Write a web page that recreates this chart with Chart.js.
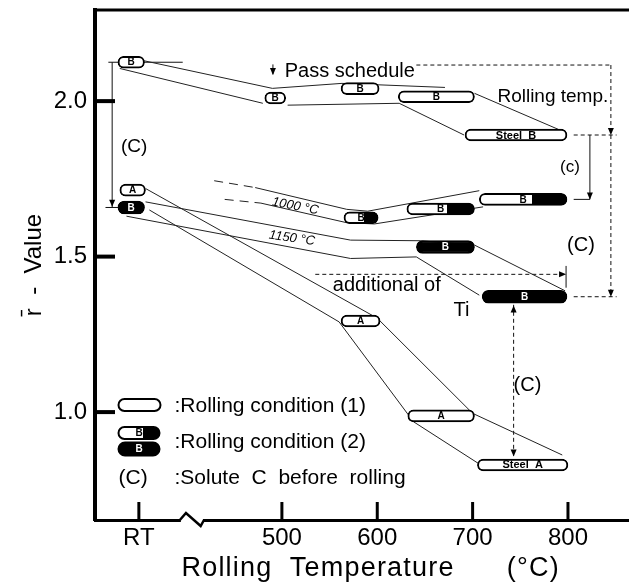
<!DOCTYPE html>
<html>
<head>
<meta charset="utf-8">
<script src="https://cdn.jsdelivr.net/npm/chart.js@4/dist/chart.umd.min.js"></script>
<style>
  html, body { margin: 0; padding: 0; background: #fff; }
  canvas { display: block; }
</style>
</head>
<body>
<canvas id="chart" width="629" height="582"></canvas>
<script>
// ---------------- data ----------------
const xTickValues = [350, 500, 600, 700, 800];          // 350 stands for RT (axis is broken)
const xTickLabels = ['RT', '500', '600', '700', '800'];
const yTickValues = [1.0, 1.5, 2.0];

// Steel B, rolling condition (1): temperature span [from, to] and r-value
const steelB1Temps  = [[328, 356], [482, 504], [562, 602], [622, 702], [692, 799]];
const steelB1Values = [2.125, 2.010, 2.040, 2.014, 1.891];
const steelB1Tags   = ['B', 'B', 'B', 'B', 'Steel  B'];

// Steel A, rolling condition (1)
const steelA1Temps  = [[330, 357], [562, 603], [632, 702], [705, 800]];
const steelA1Values = [1.714, 1.293, 0.988, 0.830];
const steelA1Tags   = ['A', 'A', 'A', 'Steel  A'];

// Steel B, rolling condition (2), reheated at 1000 °C (half filled)
const steelB2HalfTemps  = [[565, 601], [631, 702], [707, 799]];
const steelB2HalfValues = [1.625, 1.653, 1.684];
const steelB2HalfTags   = ['B', 'B', 'B'];

// Steel B, rolling condition (2), reheated at 1150 °C (filled); last one with Ti added
const steelB2FullTemps  = [[328, 356], [641, 702], [710, 799]];
const steelB2FullValues = [1.658, 1.531, 1.371];
const steelB2FullTags   = ['B', 'B', 'B'];

// connecting lines: [temperature, r-value]
const linkB1Upper   = [[352, 2.132], [490, 2.041], [563, 2.057], [671, 2.044]];
const linkB1Rolling = [[702, 2.025], [790, 1.909]];
const linkB1Lower   = [[330, 2.105], [480, 1.993]];
const linkB1Lower2  = [[506, 1.987], [623, 1.993], [691, 1.891]];
const linkA1Upper   = [[357, 1.719], [600, 1.302], [700, 0.996], [794, 0.862]];
const linkA1Lower   = [[361, 1.650], [560, 1.290], [638, 0.969], [706, 0.835]];
const link1150Upper = [[357, 1.676], [572, 1.553], [645, 1.551], [702, 1.537], [797, 1.390]];
const link1150Lower = [[337, 1.630], [572, 1.494], [641, 1.499], [707, 1.376]];
const link1000Upper = [[429, 1.744], [472, 1.722], [568, 1.652], [590, 1.646], [707, 1.712]];
const link1000Lower = [[440, 1.684], [478, 1.672], [568, 1.609], [597, 1.605], [711, 1.660]];

// ---------------- annotation layout (data units) ----------------
const dashedGuides = [
  [641, 2.116, 845, 2.116],
  [845, 2.116, 845, 1.371],
  [806, 1.891, 851, 1.891],
  [806, 1.371, 851, 1.371],
  [743, 1.345, 743, 0.855],
  [535, 1.443, 798, 1.443]
];
const solidGuides = [
  [318, 2.125, 396, 2.125],
  [322, 2.125, 322, 1.658],
  [315, 1.658, 330, 1.658],
  [806, 1.684, 823, 1.684],
  [823, 1.891, 823, 1.684],
  [798, 1.470, 798, 1.400],
  [490.6, 2.118, 490.6, 2.086]
];
const arrowHeads = [
  [322, 1.660, 'down'], [845, 1.891, 'down'], [845, 1.371, 'down'], [823, 1.684, 'down'],
  [798, 1.443, 'right'], [743, 1.343, 'up'], [743, 0.857, 'down'], [490.6, 2.084, 'down']
];
const annotationTexts = [
  { text: 'Pass schedule', t: 503, v: 2.096, align: 'left', size: 20 },
  { text: 'Rolling temp.', t: 726, v: 2.013, align: 'left', size: 19 },
  { text: '(C)', t: 345, v: 1.852, align: 'center', size: 19 },
  { text: '(c)', t: 802, v: 1.788, align: 'center', size: 17 },
  { text: '(C)', t: 813.6, v: 1.537, align: 'center', size: 20 },
  { text: '(C)', t: 757.5, v: 1.087, align: 'center', size: 20 },
  { text: 'additional of', t: 553.4, v: 1.408, align: 'left', size: 20 },
  { text: 'Ti', t: 680, v: 1.328, align: 'left', size: 20 },
  { text: '1000 °C', t: 514, v: 1.662, align: 'center', size: 13, italic: true, rot: 11 },
  { text: '1150 °C', t: 510.5, v: 1.559, align: 'center', size: 13, italic: true, rot: 8 }
];

const FONT = "'Liberation Sans', Arial, Helvetica, sans-serif";
Chart.defaults.font.family = FONT;
Chart.defaults.color = '#000';

function toPoints(arr) { return arr.map(([t, r]) => ({ x: t, y: r })); }
function toCaps(temps, vals) { return temps.map((tr, i) => ({ x: tr, y: vals[i] })); }

function lineDs(arr, dashFirst) {
  return {
    type: 'line', data: toPoints(arr), borderColor: '#222', borderWidth: 1,
    pointRadius: 0, fill: false, tension: 0, order: 5,
    segment: dashFirst ? { borderDash: c => c.p0DataIndex === 0 ? [9, 6] : undefined } : undefined
  };
}

function capsuleDs(temps, vals, tags, kind) {
  const base = {
    type: 'bar', indexAxis: 'y', data: toCaps(temps, vals), tags: tags,
    borderColor: '#000', borderWidth: 2, borderRadius: 30, borderSkipped: false,
    barThickness: kind === 'full' ? 13 : 12, skipNull: true, order: 1
  };
  if (kind === 'hollow') { base.backgroundColor = '#fff'; base.tagColor = '#000'; }
  if (kind === 'full') { base.backgroundColor = '#000'; base.tagColor = '#fff'; }
  if (kind === 'half') {
    base.tagColor = '#000';
    base.backgroundColor = (c) => {
      const xs = c.chart.scales.x;
      if (!xs || !c.raw || !Array.isArray(c.raw.x)) return '#fff';
      const x1 = xs.getPixelForValue(c.raw.x[0]), x2 = xs.getPixelForValue(c.raw.x[1]);
      if (!isFinite(x1) || !isFinite(x2) || x2 <= x1) return '#fff';
      const g = c.chart.ctx.createLinearGradient(x1, 0, x2, 0);
      g.addColorStop(0, '#fff'); g.addColorStop(0.6, '#fff');
      g.addColorStop(0.6, '#000'); g.addColorStop(1, '#000');
      return g;
    };
  }
  return base;
}

function arrowHead(ctx, x, y, dir) {
  const L = 7, W = 3;
  ctx.beginPath();
  ctx.moveTo(x, y);
  if (dir === 'down') { ctx.lineTo(x - W, y - L); ctx.lineTo(x + W, y - L); }
  if (dir === 'up') { ctx.lineTo(x - W, y + L); ctx.lineTo(x + W, y + L); }
  if (dir === 'right') { ctx.lineTo(x - L, y - W); ctx.lineTo(x - L, y + W); }
  if (dir === 'left') { ctx.lineTo(x + L, y - W); ctx.lineTo(x + L, y + W); }
  ctx.closePath();
  ctx.fill();
}

function legendCapsule(ctx, x1, x2, yc, h, kind, tag) {
  ctx.save();
  ctx.beginPath();
  ctx.roundRect(x1, yc - h / 2, x2 - x1, h, h / 2);
  if (kind === 'full') { ctx.fillStyle = '#000'; ctx.fill(); }
  else if (kind === 'half') {
    const g = ctx.createLinearGradient(x1, 0, x2, 0);
    g.addColorStop(0, '#fff'); g.addColorStop(0.6, '#fff'); g.addColorStop(0.6, '#000'); g.addColorStop(1, '#000');
    ctx.fillStyle = g; ctx.fill();
  } else { ctx.fillStyle = '#fff'; ctx.fill(); }
  ctx.lineWidth = 2; ctx.strokeStyle = '#000'; ctx.stroke();
  if (tag) {
    ctx.fillStyle = kind === 'full' ? '#fff' : '#000';
    ctx.font = 'bold 10px ' + FONT; ctx.textAlign = 'center'; ctx.textBaseline = 'middle';
    ctx.fillText(tag, (x1 + x2) / 2, yc + 0.5);
  }
  ctx.restore();
}

const decor = {
  id: 'decor',
  afterLayout(chart) {
    // widen the letter spacing of the x-axis title like the original lettering
    const s = chart.scales.x;
    if (s && !s._spaced) {
      const orig = s.drawTitle;
      s.drawTitle = function (...args) {
        const c = this.ctx; c.save(); c.letterSpacing = '1.2px'; orig.apply(this, args); c.restore();
      };
      s._spaced = true;
    }
  },
  beforeDatasetsDraw(chart) {
    const { ctx, scales: { x, y } } = chart;
    const X = v => x.getPixelForValue(v), Y = v => y.getPixelForValue(v);
    ctx.save();
    ctx.strokeStyle = '#111';
    ctx.lineWidth = 1;
    ctx.setLineDash([4, 3]);
    dashedGuides.forEach(([t1, v1, t2, v2]) => {
      ctx.beginPath(); ctx.moveTo(X(t1), Y(v1)); ctx.lineTo(X(t2), Y(v2)); ctx.stroke();
    });
    ctx.setLineDash([]);
    solidGuides.forEach(([t1, v1, t2, v2]) => {
      ctx.beginPath(); ctx.moveTo(X(t1), Y(v1)); ctx.lineTo(X(t2), Y(v2)); ctx.stroke();
    });
    ctx.restore();
  },
  afterDatasetsDraw(chart) {
    const { ctx, chartArea: ca, scales: { x, y } } = chart;
    const X = v => x.getPixelForValue(v), Y = v => y.getPixelForValue(v);
    ctx.save();
    // capsule tags
    chart.data.datasets.forEach((ds, di) => {
      if (!ds.tags) return;
      const meta = chart.getDatasetMeta(di);
      meta.data.forEach((el, i) => {
        const c = el.getCenterPoint();
        const tag = ds.tags[i];
        ctx.fillStyle = ds.tagColor;
        ctx.font = (tag.length > 1 ? 'bold 11px ' : 'bold 10px ') + FONT;
        ctx.textAlign = 'center'; ctx.textBaseline = 'middle';
        ctx.fillText(tag, c.x, c.y + 0.5);
      });
    });
    // arrow heads
    ctx.fillStyle = '#000';
    arrowHeads.forEach(([t, v, d]) => arrowHead(ctx, X(t), Y(v), d));
    // texts
    annotationTexts.forEach(a => {
      ctx.save();
      ctx.translate(X(a.t), Y(a.v));
      if (a.rot) ctx.rotate(a.rot * Math.PI / 180);
      ctx.font = (a.italic ? 'italic ' : '') + a.size + 'px ' + FONT;
      ctx.textAlign = a.align; ctx.textBaseline = 'middle';
      ctx.fillStyle = '#000';
      ctx.fillText(a.text, 0, 0);
      ctx.restore();
    });
    // legend (pixel layout anchored on the plot area)
    const lx1 = ca.left + 23.5, lx2 = ca.left + 65.5, tx = ca.left + 79.5;
    legendCapsule(ctx, lx1, lx2, ca.bottom - 115, 12, 'hollow', '');
    legendCapsule(ctx, lx1, lx2 - 1, ca.bottom - 87, 12, 'half', 'B');
    legendCapsule(ctx, lx1, lx2 - 1, ca.bottom - 71, 13, 'full', 'B');
    ctx.fillStyle = '#000';
    ctx.font = '21px ' + FONT; ctx.textAlign = 'left'; ctx.textBaseline = 'middle';
    ctx.fillText(':Rolling condition (1)', tx, ca.bottom - 114);
    ctx.fillText(':Rolling condition (2)', tx, ca.bottom - 78);
    ctx.fillText('(C)', lx1, ca.bottom - 42);
    ctx.fillText(':Solute  C  before  rolling', tx, ca.bottom - 42);
    ctx.restore();
  },
  afterDraw(chart) {
    const { ctx, chartArea: ca, scales: { x, y } } = chart;
    ctx.save();
    ctx.strokeStyle = '#000';
    // top frame line
    ctx.lineWidth = 3;
    ctx.beginPath(); ctx.moveTo(ca.left - 2, ca.top); ctx.lineTo(ca.right, ca.top); ctx.stroke();
    // inward ticks on y
    ctx.lineWidth = 4;
    yTickValues.forEach(v => {
      const py = y.getPixelForValue(v);
      ctx.beginPath(); ctx.moveTo(ca.left, py); ctx.lineTo(ca.left + 20, py); ctx.stroke();
    });
    // inward ticks on x
    ctx.lineWidth = 3;
    xTickValues.forEach(v => {
      const px = x.getPixelForValue(v);
      ctx.beginPath(); ctx.moveTo(px, ca.bottom); ctx.lineTo(px, ca.bottom - 18); ctx.stroke();
    });
    // axis break
    const b1 = x.getPixelForValue(393), b2 = x.getPixelForValue(399.4),
          b3 = x.getPixelForValue(414.8), b4 = x.getPixelForValue(418.3);
    ctx.fillStyle = '#fff';
    ctx.fillRect(b1 + 1, ca.bottom - 3, b4 - b1 - 2, 6);
    ctx.lineWidth = 2.5;
    ctx.beginPath();
    ctx.moveTo(b1, ca.bottom); ctx.lineTo(b2, ca.bottom - 7); ctx.lineTo(b3, ca.bottom + 6); ctx.lineTo(b4, ca.bottom);
    ctx.stroke();
    ctx.restore();
  }
};

new Chart(document.getElementById('chart'), {
  type: 'line',
  data: {
    datasets: [
      lineDs(linkB1Upper), lineDs(linkB1Rolling), lineDs(linkB1Lower), lineDs(linkB1Lower2),
      lineDs(linkA1Upper), lineDs(linkA1Lower), lineDs(link1150Upper), lineDs(link1150Lower),
      lineDs(link1000Upper, true), lineDs(link1000Lower, true),
      capsuleDs(steelB1Temps, steelB1Values, steelB1Tags, 'hollow'),
      capsuleDs(steelA1Temps, steelA1Values, steelA1Tags, 'hollow'),
      capsuleDs(steelB2HalfTemps, steelB2HalfValues, steelB2HalfTags, 'half'),
      capsuleDs(steelB2FullTemps, steelB2FullValues, steelB2FullTags, 'full')
    ]
  },
  options: {
    responsive: false,
    devicePixelRatio: 1,
    animation: false,
    events: [],
    layout: { padding: { top: 10, right: 0, left: 0, bottom: 0 } },
    plugins: { legend: { display: false }, tooltip: { enabled: false } },
    scales: {
      x: {
        type: 'linear', position: 'bottom', min: 304, max: 864, offset: false,
        beginAtZero: false, stacked: false,
        afterBuildTicks: s => { s.ticks = xTickValues.map(v => ({ value: v })); },
        afterFit: s => { s.height = 62; s.paddingLeft = 0; s.paddingRight = 0; },
        grid: { display: false, drawTicks: false },
        border: { display: true, color: '#000', width: 3 },
        ticks: {
          autoSkip: false, maxRotation: 0, padding: 4, color: '#000',
          font: { size: 24 },
          callback: v => xTickLabels[xTickValues.indexOf(v)]
        },
        title: {
          display: true, text: '  Rolling  Temperature      (°C)', color: '#000',
          font: { size: 27, lineHeight: 1 }, padding: { top: 0, bottom: 0 }
        }
      },
      y: {
        type: 'linear', position: 'left', min: 0.653, max: 2.293, offset: false,
        beginAtZero: false,
        afterBuildTicks: s => { s.ticks = yTickValues.map(v => ({ value: v })); },
        afterFit: s => { s.width = 95; s.paddingTop = 0; s.paddingBottom = 0; },
        grid: { display: false, drawTicks: false },
        border: { display: true, color: '#000', width: 4 },
        ticks: {
          padding: 8, color: '#000', font: { size: 24 },
          callback: v => v.toFixed(1)
        },
        title: {
          display: true, text: 'r\u0304  -  Value', color: '#000',
          font: { size: 24, lineHeight: 1.2 }, padding: { top: 20, bottom: 0 }
        }
      }
    }
  },
  plugins: [decor]
});
</script>
</body>
</html>
